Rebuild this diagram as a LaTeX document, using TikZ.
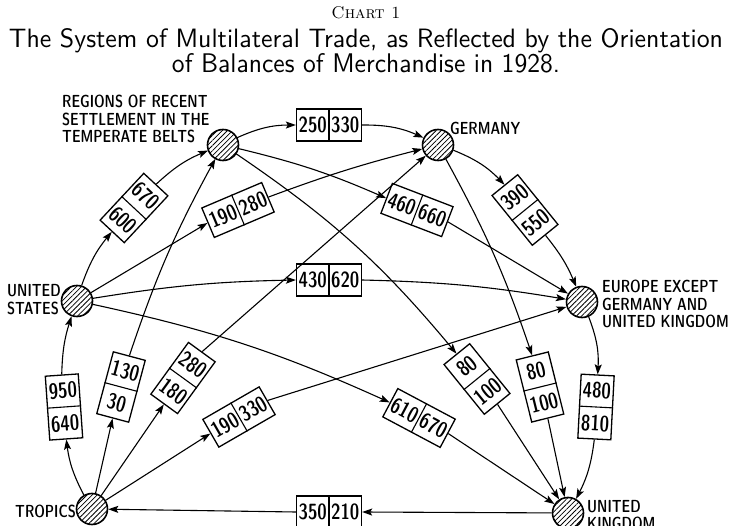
\documentclass[tikz,border=0pt]{standalone}
\usepackage{graphicx}
\usetikzlibrary{arrows.meta, patterns.meta, positioning}

% two figures side by side, or one above the other
\newcommand\hpair[2]{\makebox[32.5pt]{\scalebox{.9}[1]{#1}}\makebox[32.5pt]{\scalebox{.9}[1]{#2}}}
\newcommand\vpair[2]{\vbox{\offinterlineskip
  \hbox to 33pt{\hss\scalebox{.9}[1]{#1}\hss}\vskip17pt
  \hbox to 33pt{\hss\scalebox{.9}[1]{#2}\hss}}}
\newcommand\lbl[1]{\scalebox{.87}[1]{\begin{tabular}[t]{@{}l@{}}#1\end{tabular}}}

\begin{document}
\begin{tikzpicture}[x=1pt, y=1pt,
    region/.style={circle, draw, line width=1.6pt, minimum size=31pt, inner sep=0pt,
      pattern={Lines[angle=45, distance=3.6pt, line width=.8pt]}},
    pairbox/.style={draw, line width=1.3pt, fill=white, inner sep=0pt,
      font=\fontsize{22}{26}\sffamily\fontseries{sbc}\selectfont},
    hpairbox/.style={pairbox, minimum width=65pt, minimum height=32pt},
    vpairbox/.style={pairbox, minimum width=33pt, minimum height=64pt},
    place/.style={inner sep=0pt, anchor=base west,
      font=\fontsize{17.5}{16.5}\sffamily\fontseries{sbc}\selectfont},
    flow/.style={line width=1.1pt, -{Stealth[length=10pt, width=7pt, inset=2pt]}},
    divider/.style={line width=1.1pt}]
  \useasboundingbox (0,0) rectangle (731,-526);

  % title
  \node[anchor=base, font=\fontsize{17}{19}\selectfont] (chart) at (366,-19) {\textsc{Chart 1}};
  \node[anchor=base, inner sep=0pt] (title) at (366,-48)
    {\resizebox{714pt}{19pt}{\sffamily The System of Multilateral Trade, as Reflected by the Orientation}};
  \node[anchor=base, inner sep=0pt] (title-2) at (366,-73)
    {\resizebox{388pt}{19pt}{\sffamily of Balances of Merchandise in 1928.}};

  % regions
  \node[region] (rrs) at (223,-145) {};
  \node[region] (ger) at (438,-145) {};
  \node[region] (us) at (77,-301) {};
  \node[region] (eur) at (582,-302) {};
  \node[region] (trop) at (92,-509) {};
  \node[region] (uk) at (568,-513) {};

  \node[place] (rrs-name) at (62,-108) {\lbl{REGIONS OF RECENT\\SETTLEMENT IN THE\\TEMPERATE BELTS}};
  \node[place] (ger-name) at (450,-135) {\lbl{GERMANY}};
  \node[place] (us-name) at (7,-297) {\lbl{UNITED\\STATES}};
  \node[place] (eur-name) at (602,-293) {\lbl{EUROPE EXCEPT\\GERMANY AND\\UNITED KINGDOM}};
  \node[place] (trop-name) at (15,-517) {\lbl{TROPICS}};
  \node[place] (uk-name) at (587,-512) {\lbl{UNITED\\KINGDOM}};

  % balances
  \node[hpairbox] (b250) at (329,-125) {\hpair{250}{330}};
  \node[vpairbox, rotate=-43] (b670) at (134,-208) {\vpair{670}{600}};
  \node[hpairbox, rotate=23] (b190) at (238,-210) {\hpair{190}{280}};
  \node[hpairbox, rotate=-21] (b460) at (417,-210) {\hpair{460}{660}};
  \node[vpairbox, rotate=39] (b390) at (525,-210) {\vpair{390}{550}};
  \node[hpairbox] (b430) at (329,-280) {\hpair{430}{620}};
  \node[vpairbox, rotate=-3] (b480) at (596,-407) {\vpair{480}{810}};
  \node[vpairbox, rotate=4] (b950) at (64,-407) {\vpair{950}{640}};
  \node[vpairbox, rotate=-15] (b130) at (121,-387) {\vpair{130}{30}};
  \node[vpairbox, rotate=-36] (b280) at (183,-378) {\vpair{280}{180}};
  \node[hpairbox, rotate=30] (b330) at (239,-417) {\hpair{190}{330}};
  \node[hpairbox, rotate=-28] (b610) at (419,-418) {\hpair{610}{670}};
  \node[vpairbox, rotate=39] (b80a) at (477,-379) {\vpair{80}{100}};
  \node[vpairbox, rotate=14] (b80b) at (540,-387) {\vpair{80}{100}};
  \node[hpairbox] (b350) at (329,-512) {\hpair{350}{210}};

  \foreach \b in {b250,b190,b460,b430,b330,b610,b350}
    \draw[divider] (\b.north) -- (\b.south);
  \foreach \b in {b670,b390,b480,b950,b130,b280,b80a,b80b}
    \draw[divider] (\b.west) -- (\b.east);

  % flows
  \draw[flow] (rrs) to[bend left=12] (b250.west);
  \draw[flow] (b250.east) to[bend left=12] (ger);
  \draw[flow] (us) to[bend left=10] (b670.south);
  \draw[flow] (b670.north) to[bend left=10] (rrs);
  \draw[flow] (us) -- (b190.west);
  \draw[flow] (b190.east) to[bend left=3] (ger);
  \draw[flow] (rrs) to[bend left=5] (b460.west);
  \draw[flow] (b460.east) -- (eur);
  \draw[flow] (ger) to[bend left=12] (b390.north);
  \draw[flow] (b390.south) to[bend left=8] (eur);
  \draw[flow] (us) to[bend left=4] (b430.west);
  \draw[flow] (b430.east) to[bend left=4] (eur);
  \draw[flow] (eur) to[bend left=12] (b480.north);
  \draw[flow] (b480.south) to[bend left=10] (uk);
  \draw[flow] (trop) to[bend left=10] (b950.south);
  \draw[flow] (b950.north) to[bend left=8] (us);
  \draw[flow] (trop) -- (b130.south);
  \draw[flow] (b130.north) to[bend left=5] (rrs);
  \draw[flow] (trop) -- (b280.south);
  \draw[flow] (b280.north) -- (ger);
  \draw[flow] (trop) -- (b330.west);
  \draw[flow] (b330.east) -- (eur);
  \draw[flow] (us) to[bend left=6] (b610.west);
  \draw[flow] (b610.east) -- (uk);
  \draw[flow] (rrs) to[bend left=8] (b80a.north);
  \draw[flow] (b80a.south) -- (uk);
  \draw[flow] (ger) to[bend left=5] (b80b.north);
  \draw[flow] (b80b.south) -- (uk);
  \draw[flow] (uk) -- (b350.east);
  \draw[flow] (b350.west) -- (trop);
\end{tikzpicture}
\end{document}
